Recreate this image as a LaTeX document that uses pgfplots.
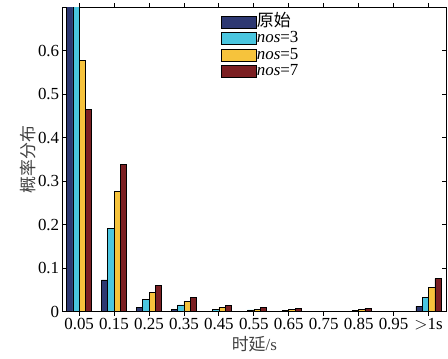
\documentclass[border=0pt]{standalone}
\usepackage{fontspec}
\setmainfont{Liberation Serif}
\newfontfamily\cjk{Noto Sans CJK SC}
\usepackage{pgfplots}
\pgfplotsset{compat=1.18}
\definecolor{c1}{RGB}{45,56,114}
\definecolor{c2}{RGB}{74,198,224}
\definecolor{c3}{RGB}{246,195,60}
\definecolor{c4}{RGB}{123,31,34}
\begin{document}
\begin{tikzpicture}[font=\rmfamily\fontsize{17}{19}\selectfont]
\begin{axis}[
  at={(0,0)}, anchor=south west,
  scale only axis, width=383.3bp, height=304.7bp,
  xmin=-0.47, xmax=10.5, ymin=0, ymax=0.7,
  xtick={0,...,10},
  xticklabels={0.05,0.15,0.25,0.35,0.45,0.55,0.65,0.75,0.85,0.95,$>$1s},
  ytick={0,0.1,...,0.61},
  yticklabel style={/pgf/number format/fixed},
  /pgf/number format/assume math mode=true,
  tick align=inside, major tick length=4bp,
  tick style={black, line width=0.8pt},
  axis line style={line width=1pt},
  xticklabel style={yshift=1bp},
  xlabel={{\cjk 时延}/s},
  ylabel={\cjk 概率分布},
  label style={text=black!75},
  xlabel style={yshift=0bp},
  ylabel style={yshift=-5bp},
  ybar, bar width=0.18,
  every axis plot/.append style={draw=black, line width=0.6pt},
  legend style={draw=none, fill=none, at={(0.412,0.978)}, anchor=north west,
    font=\rmfamily\fontsize{17}{17}\selectfont, row sep=0bp, inner sep=0pt,
    nodes={inner sep=0.5bp, text height=12bp, text depth=3.5bp}},
  legend cell align=left,
  legend image code/.code={\draw[#1, draw=black, line width=0.6pt] (0bp,-6bp) rectangle (35bp,6bp);},
]
\addplot[fill=c1, bar shift=-0.27] coordinates {(0,0.85) (1,0.073) (2,0.010) (3,0.006) (4,0.001) (5,0.001) (6,0.001) (7,0.0005) (8,0.001) (9,0.0005) (10,0.012)};
\addplot[fill=c2, bar shift=-0.09] coordinates {(0,0.80) (1,0.192) (2,0.0285) (3,0.0155) (4,0.0055) (5,0.004) (6,0.003) (7,0.0005) (8,0.003) (9,0.0005) (10,0.032)};
\addplot[fill=c3, bar shift=0.09] coordinates {(0,0.577) (1,0.277) (2,0.044) (3,0.0245) (4,0.010) (5,0.006) (6,0.005) (7,0.0005) (8,0.005) (9,0.0005) (10,0.055)};
\addplot[fill=c4, bar shift=0.27] coordinates {(0,0.464) (1,0.339) (2,0.060) (3,0.032) (4,0.014) (5,0.009) (6,0.008) (7,0.0005) (8,0.008) (9,0.0005) (10,0.076)};
\legend{{\cjk 原始},\textit{nos}=3,\textit{nos}=5,\textit{nos}=7}
\end{axis}
\pgfresetboundingbox
\useasboundingbox (-62.7bp,-47.3bp) rectangle (385.3bp,311.7bp);
\end{tikzpicture}
\end{document}
